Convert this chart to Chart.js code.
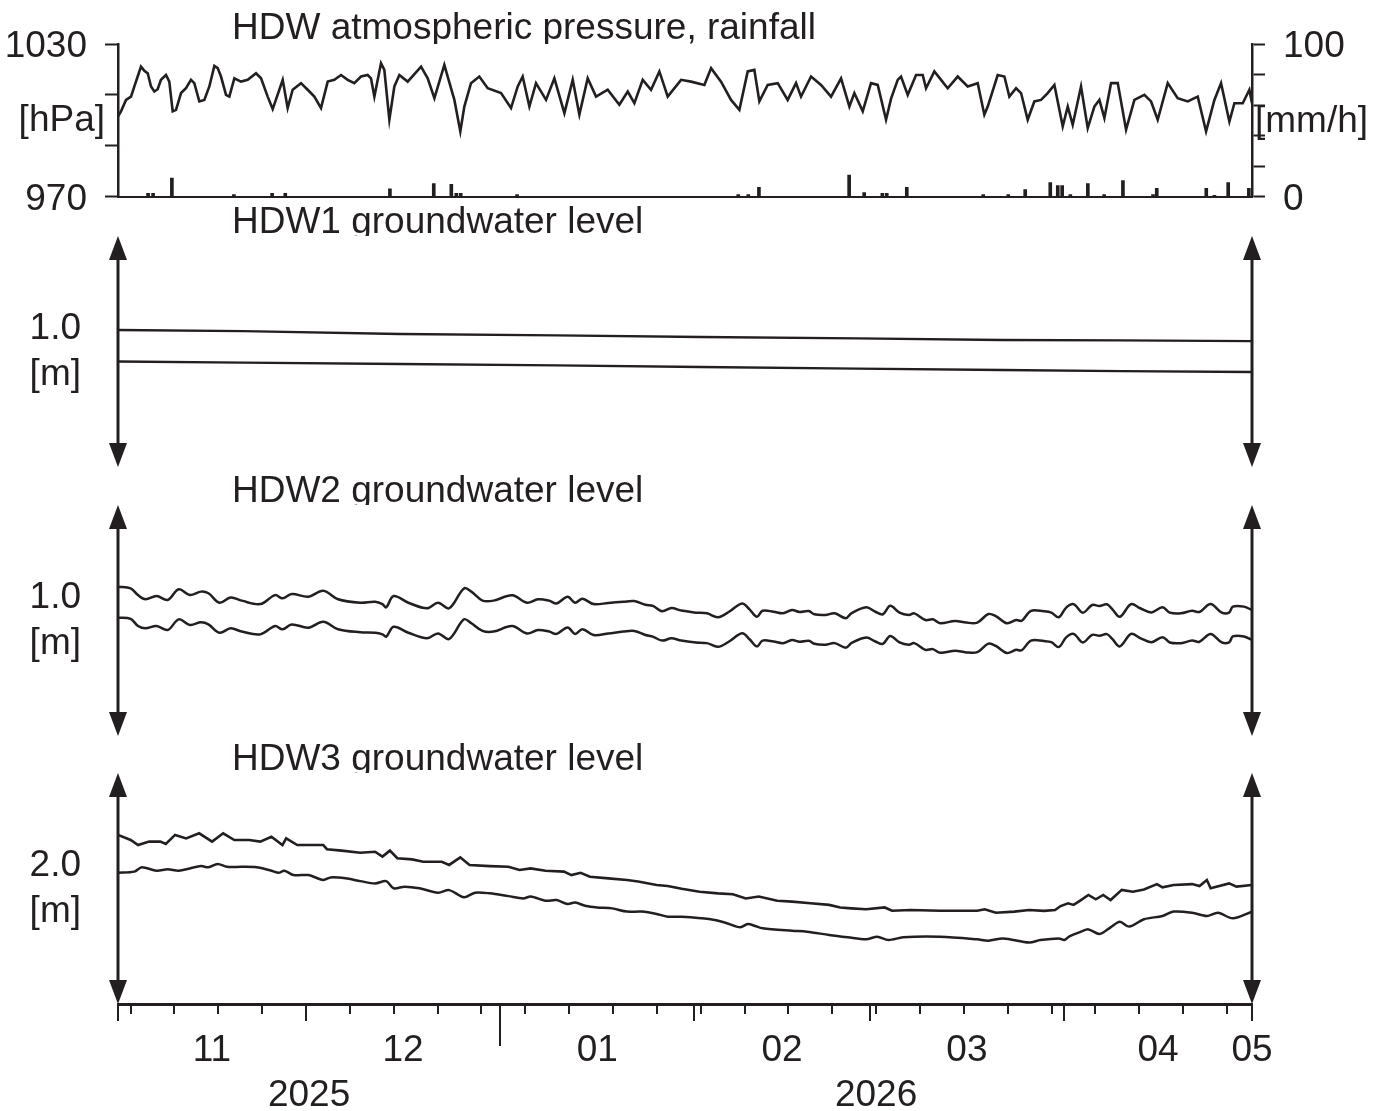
<!DOCTYPE html>
<html><head><meta charset="utf-8">
<script src="https://cdn.jsdelivr.net/npm/chart.js@4.4.1/dist/chart.umd.min.js"></script>
<style>
html,body{margin:0;padding:0;background:#fff;}
#wrap{position:relative;width:1394px;height:1111px;overflow:hidden;background:#fff;}
canvas{position:absolute;left:0;}
</style></head><body>
<div id="wrap">
<canvas id="cP" width="1394" height="240" style="top:0px"></canvas>
<canvas id="c1" width="1394" height="280" style="top:200px"></canvas>
<canvas id="c2" width="1394" height="280" style="top:470px"></canvas>
<canvas id="c3" width="1394" height="371" style="top:740px"></canvas>
</div>
<script>
// ---------- DATA (x = days since 2025-11-01) ----------
const pressureDays = [0,0.48,1.28,2.08,2.61,3.14,3.67,4.20,4.74,5.27,5.80,6.33,6.86,7.66,8.19,8.73,9.26,10.06,10.85,11.65,12.18,12.98,13.78,14.58,15.38,15.91,16.44,17.24,17.77,18.57,19.63,20.70,22.03,22.83,23.89,24.69,25.75,26.29,27.08,27.88,29.21,30.27,31.34,32.40,33.47,34.53,35.60,36.66,37.72,38.79,39.85,40.38,40.92,41.98,42.51,43.31,44.11,44.91,46.24,48.37,49.43,50.50,52.09,52.62,53.69,54.64,55.28,56.34,57.67,59.01,61.14,62.73,63.80,64.59,65.66,66.72,68.32,69.65,71.25,72.58,73.64,74.97,76.30,78.16,80.02,81.36,82.42,83.75,85.08,86.41,87.74,89.87,91.46,93.59,94.66,96.25,97.85,99.18,100.51,101.57,102.37,103.70,105.30,106.89,108.22,109.02,110.62,112.21,113.81,115.41,116.74,117.53,118.87,120.19,121.26,122.59,123.39,124.45,124.98,126.05,127.38,128.44,128.97,130.30,131.37,132.43,134.03,135.62,137.22,138.28,138.82,140.41,141.48,142.27,143.34,144.14,145.20,146.26,147.33,148.39,149.46,150.79,151.59,152.38,153.71,154.78,155.84,156.64,157.44,158.50,159.57,160.90,162.23,163.82,164.89,165.95,167.55,169.14,170.74,172.34,173.67,175.00,176.06,177.39,178.19,179.52,180.58,181];
const pressureHPa = [1001.5,1003.5,1008.0,1009.3,1013.3,1017.2,1021.1,1019.5,1018.5,1013.3,1011.3,1012.2,1015.9,1017.8,1015.2,1003.5,1004.1,1010.7,1012.6,1015.9,1014.6,1007.4,1008.0,1013.3,1021.4,1020.5,1017.2,1010.0,1009.3,1016.5,1015.2,1015.9,1018.5,1016.5,1009.3,1004.4,1012.0,1015.9,1004.8,1012.0,1014.6,1012.0,1009.3,1004.8,1015.2,1015.9,1017.8,1015.9,1014.6,1017.2,1017.8,1016.5,1009.3,1022.4,1019.8,1000.2,1013.3,1017.8,1015.2,1021.1,1016.5,1008.7,1021.8,1017.2,1008.0,995.6,1005.4,1014.6,1017.2,1012.6,1010.7,1004.8,1013.3,1017.2,1005.4,1014.6,1008.0,1016.5,1002.8,1015.9,1002.2,1016.5,1009.3,1012.0,1006.1,1011.3,1006.7,1015.9,1012.0,1019.2,1009.3,1015.9,1015.2,1013.9,1020.5,1015.2,1008.0,1004.1,1019.2,1019.8,1007.4,1013.9,1014.6,1008.0,1014.6,1009.3,1017.2,1013.9,1009.3,1016.5,1005.4,1010.7,1003.5,1014.6,1013.9,1000.2,1008.5,1015.9,1017.2,1010.0,1017.8,1017.8,1012.6,1019.2,1015.9,1012.6,1017.2,1013.3,1014.6,1002.2,1005.4,1017.8,1017.2,1009.3,1012.6,1010.7,1000.2,1007.4,1008.0,1010.7,1013.9,997.6,1005.4,998.2,1013.3,996.9,1005.4,1008.0,1000.9,1014.6,1014.6,996.3,1008.0,1010.0,1007.4,1000.2,1014.6,1008.7,1007.4,1009.3,995.6,1008.0,1014.6,999.5,1006.7,1006.7,1012.0,1006.7];

const rainDays = [4.8,5.6,8.6,18.5,24.6,26.7,43.4,50.4,53.2,54.0,54.7,63.7,99.0,100.6,102.3,116.7,119.1,122.0,122.7,125.9,138.1,142.1,144.8,148.8,150.0,150.7,152.0,154.8,157.4,160.4,165.2,165.8,173.7,175.0,177.2,180.5];
const rainMm = [2,2,12,1.3,2,2,5,8.5,8,2,2,1.3,1.3,1.3,6,14,2.6,2,2,6,1.3,1.3,4.6,9.2,7.2,7.2,1.3,8.5,1.3,10.5,1.3,5.3,5.3,0.7,9.2,5.3];

const hdw1Days  = [0,20,45,70,93,118,141,160,181];
const hdw1Upper = [0.993,0.988,0.976,0.970,0.963,0.957,0.950,0.948,0.945];
const hdw1Lower = [0.857,0.852,0.846,0.840,0.833,0.826,0.820,0.815,0.811];

const hdw2Days = [0,2.02,3.20,4.38,6.15,7.93,9.70,11.47,13.25,14.43,16.20,17.98,19.75,22.71,25.07,26.25,27.73,30.39,32.76,35.12,38.67,41.03,42.21,42.81,43.99,46.35,49.31,51.08,52.86,55.22,56.40,58.18,59.95,62.91,65.27,67.04,68.82,70.00,71.77,72.95,74.14,75.91,78.28,80.64,82.41,84.19,85.37,86.85,88.33,89.9,92.22,94.00,95.77,97.54,99.61,100.80,101.98,102.87,104.64,106.12,107.59,108.78,110.25,111.14,112.91,114.39,116.17,117.05,119.42,120.90,122.08,123.26,124.74,126.22,127.10,128.88,130.06,131.24,133.61,135.38,137.15,138.93,140.11,141.88,143.36,144.25,145.72,147.79,148.98,150.16,151.34,152.52,154.00,155.48,156.66,157.84,158.73,159.91,161.69,163.16,164.94,166.71,167.89,169.67,171.44,172.62,174.40,176.17,177.35,177.94,179.72,181];
const hdw2Upper = [1.046,1.039,1.010,0.992,1.006,0.989,1.035,1.010,1.025,1.018,0.977,1.000,0.986,0.971,1.010,0.996,1.015,1.003,1.029,0.992,0.977,0.981,0.971,0.957,1.006,0.977,0.953,0.977,0.953,1.039,1.025,0.986,0.986,1.009,0.977,0.992,0.986,0.974,1.003,0.977,0.994,0.971,0.976,0.981,0.984,0.968,0.963,0.940,0.954,0.943,0.934,0.931,0.914,0.938,0.974,0.948,0.916,0.942,0.938,0.931,0.945,0.937,0.941,0.927,0.924,0.931,0.910,0.931,0.957,0.938,0.927,0.964,0.934,0.924,0.931,0.902,0.905,0.888,0.898,0.891,0.891,0.928,0.919,0.888,0.902,0.899,0.942,0.940,0.934,0.914,0.956,0.971,0.934,0.967,0.963,0.970,0.948,0.916,0.971,0.953,0.935,0.957,0.934,0.931,0.942,0.937,0.971,0.934,0.934,0.960,0.960,0.945];
const hdw2Lower = [0.912,0.907,0.876,0.866,0.876,0.859,0.905,0.881,0.892,0.883,0.847,0.866,0.852,0.840,0.876,0.862,0.883,0.869,0.895,0.862,0.849,0.847,0.840,0.830,0.873,0.847,0.823,0.844,0.820,0.905,0.888,0.855,0.852,0.876,0.844,0.859,0.852,0.842,0.870,0.842,0.862,0.837,0.844,0.852,0.855,0.837,0.830,0.813,0.823,0.813,0.805,0.802,0.786,0.809,0.845,0.819,0.788,0.813,0.809,0.802,0.816,0.808,0.812,0.799,0.795,0.802,0.782,0.802,0.826,0.809,0.799,0.833,0.805,0.795,0.802,0.773,0.776,0.760,0.769,0.762,0.763,0.800,0.790,0.759,0.773,0.771,0.813,0.811,0.806,0.785,0.827,0.842,0.805,0.838,0.834,0.841,0.819,0.788,0.842,0.824,0.806,0.828,0.805,0.802,0.813,0.808,0.842,0.805,0.805,0.831,0.831,0.816];

const hdw3UpperDays = [0,2.02,3.20,4.97,6.75,7.63,9.11,10.88,12.95,15.02,16.79,18.57,20.93,22.71,24.48,26.25,26.84,28.62,30.39,32.76,33.35,35.71,38.67,41.03,42.21,43.40,44.58,46.94,48.72,51.67,52.86,54.63,56.11,59.36,62.31,64.09,65.86,68.23,71.18,72.37,73.84,75.32,78.28,81.23,83.01,85.96,87.73,89.98,92.82,95.77,98.14,100.21,102.27,105.23,107.59,110.55,113.51,115.28,117.05,119.42,122.37,123.56,126.51,131.24,134.20,137.15,138.33,140.11,143.06,145.43,147.79,149.57,150.45,151.64,152.52,153.70,154.89,156.07,157.25,158.43,160.21,161.98,163.76,165.82,166.71,168.48,171.44,172.62,173.80,174.40,177.35,178.53,181];
const hdw3Upper = [2.132,2.110,2.088,2.103,2.103,2.093,2.132,2.117,2.139,2.103,2.139,2.110,2.110,2.103,2.124,2.088,2.117,2.088,2.088,2.088,2.070,2.064,2.055,2.059,2.038,2.064,2.031,2.026,2.016,2.016,2.002,2.035,2.002,1.997,1.994,1.980,1.987,1.977,1.973,1.958,1.968,1.951,1.944,1.937,1.930,1.915,1.911,1.899,1.886,1.879,1.875,1.857,1.865,1.847,1.843,1.836,1.829,1.818,1.814,1.810,1.818,1.804,1.807,1.804,1.804,1.804,1.810,1.795,1.800,1.807,1.803,1.807,1.824,1.836,1.829,1.850,1.872,1.853,1.872,1.850,1.894,1.886,1.896,1.919,1.905,1.915,1.919,1.911,1.937,1.901,1.922,1.908,1.915];
const hdw3LowerDays = [0,2.61,3.79,6.15,7.93,9.70,11.47,13.25,14.43,15.91,17.39,19.75,22.12,24.48,25.66,26.55,28.03,30.39,32.76,33.94,36.30,38.67,41.03,42.81,43.99,45.76,48.13,51.08,52.86,55.22,57.00,59.36,62.31,64.68,65.86,68.23,70.00,71.77,72.95,74.73,76.50,78.87,81.23,83.60,85.96,87.73,89.98,94.59,96.95,99.32,100.50,101.68,102.87,107.59,109.96,113.51,116.46,119.42,121.19,122.96,125.33,131.24,137.15,138.93,141.29,145.43,147.20,150.16,151.04,151.93,153.70,154.89,156.66,158.43,159.91,161.39,163.76,166.71,168.48,171.44,173.80,175.57,177.94,181];
const hdw3Lower = [1.968,1.973,1.992,1.977,1.983,1.977,1.987,1.997,1.992,2.006,1.994,1.994,1.992,1.977,1.968,1.977,1.958,1.958,1.937,1.948,1.944,1.932,1.922,1.932,1.901,1.908,1.901,1.882,1.893,1.862,1.882,1.879,1.867,1.857,1.865,1.847,1.850,1.833,1.839,1.824,1.818,1.814,1.800,1.800,1.790,1.778,1.778,1.767,1.752,1.732,1.746,1.738,1.728,1.717,1.713,1.699,1.689,1.680,1.691,1.677,1.689,1.691,1.680,1.674,1.684,1.666,1.677,1.684,1.677,1.694,1.713,1.723,1.703,1.732,1.756,1.735,1.767,1.781,1.800,1.795,1.781,1.795,1.771,1.800];

// axis / tick labels
const monthLabelDays = [15,45.5,76.5,106,135.5,166,181];
const monthLabels = ['11','12','01','02','03','04','05'];
const yearLabelDays = [30.5,121];
const yearLabels = ['2025','2026'];
const weekTickDays = [2,9,16,23,30,37,44,51,58,65,72,79,86,93,100,107,114,121,128,135,142,149,156,163,170,177];
const monthStartDays = [0,30,61,92,120,151,181];
const yearStartDays = [61];

// ---------- STYLE ----------
const INK = '#231f20';
const FONT = 'Liberation Sans';
const FS = 37;
Chart.defaults.font.family = FONT;
Chart.defaults.font.size = FS;
Chart.defaults.color = INK;
const X_MIN = 0, X_MAX = 181;

function pts(xs, ys){ return xs.map((x,i)=>({x:x, y:ys[i]})); }
function zeroPad(s){ s.paddingTop=0; s.paddingBottom=0; s.paddingLeft=0; s.paddingRight=0; }

const titlePlugin = {
  id:'panelTitle',
  afterDraw(chart, args, opts){
    const ctx = chart.ctx;
    ctx.save();
    ctx.beginPath(); ctx.rect(0,0,chart.width,chart.chartArea.top); ctx.clip();
    ctx.font = FS+'px "'+FONT+'"'; ctx.fillStyle = INK;
    ctx.textAlign='left'; ctx.textBaseline='alphabetic';
    ctx.fillText(opts.text, opts.x, opts.y);
    ctx.restore();
  }
};
const unitsPlugin = {
  id:'units',
  afterDraw(chart, args, opts){
    const ctx = chart.ctx;
    ctx.save();
    ctx.font = FS+'px "'+FONT+'"'; ctx.fillStyle = INK; ctx.textBaseline='middle';
    (opts.items||[]).forEach(it=>{ ctx.textAlign = it.align; ctx.fillText(it.text, it.x, it.y); });
    ctx.restore();
  }
};
const arrowPlugin = {
  id:'gwArrows',
  afterDraw(chart){
    const {ctx, chartArea:{left,right,top,bottom}} = chart;
    ctx.save(); ctx.strokeStyle=INK; ctx.fillStyle=INK; ctx.lineWidth=3;
    [left,right].forEach(x=>{
      ctx.beginPath(); ctx.moveTo(x,top+20); ctx.lineTo(x,bottom-20); ctx.stroke();
      ctx.beginPath(); ctx.moveTo(x,top); ctx.lineTo(x-9,top+24); ctx.lineTo(x+9,top+24); ctx.closePath(); ctx.fill();
      ctx.beginPath(); ctx.moveTo(x,bottom); ctx.lineTo(x-9,bottom-24); ctx.lineTo(x+9,bottom-24); ctx.closePath(); ctx.fill();
    });
    ctx.restore();
  }
};
const xTickPlugin = {
  id:'xTicks',
  afterDraw(chart){
    const ctx = chart.ctx, s = chart.scales.x, y0 = chart.chartArea.bottom;
    ctx.save(); ctx.strokeStyle=INK; ctx.lineWidth=2;
    const mark=(d,len)=>{ const x=Math.round(s.getPixelForValue(d)); ctx.beginPath(); ctx.moveTo(x,y0); ctx.lineTo(x,y0+len); ctx.stroke(); };
    weekTickDays.forEach(d=>mark(d,10));
    monthStartDays.forEach(d=>mark(d,17));
    yearStartDays.forEach(d=>mark(d,42));
    ctx.restore();
  }
};

const lineDs = (data, w) => ({type:'line', data, borderColor:INK, borderWidth:w, pointRadius:0, tension:0, fill:false});

// ---------- TOP PANEL: pressure + rainfall ----------
new Chart(document.getElementById('cP'), {
  data:{ datasets:[
    Object.assign(lineDs(pts(pressureDays, pressureHPa), 2.6), {yAxisID:'yP'}),
    {type:'bar', data: pts(rainDays, rainMm), yAxisID:'yR', backgroundColor:INK, barThickness:3, grouped:false}
  ]},
  options:{
    responsive:false, animation:false, events:[],
    layout:{padding:{top:44, bottom:43.5, left:0, right:0}},
    plugins:{legend:{display:false}, tooltip:{enabled:false},
      panelTitle:{text:'HDW atmospheric pressure, rainfall', x:232, y:39},
      units:{items:[{text:'[hPa]', x:105, y:121, align:'right'},{text:'[mm/h]', x:1255, y:122, align:'left'}]}
    },
    scales:{
      x:{type:'linear', min:X_MIN, max:X_MAX, offset:false, ticks:{display:false}, grid:{display:false, offset:false}, border:{display:true, width:2, color:INK},
         afterFit(s){ s.height=0; zeroPad(s); }},
      yP:{type:'linear', position:'left', min:970, max:1030,
         ticks:{stepSize:20, padding:18, labelOffset:3, autoSkip:false, callback:(v)=> (v===1030||v===970) ? String(v) : ''},
         grid:{drawOnChartArea:false, tickLength:13, tickWidth:2, tickColor:INK},
         border:{width:2.5, color:INK},
         afterFit(s){ s.width=118; zeroPad(s); }},
      yR:{type:'linear', position:'right', min:0, max:100,
         ticks:{stepSize:20, padding:18, labelOffset:3, autoSkip:false, callback:(v)=> (v===0||v===100) ? String(v) : ''},
         grid:{drawOnChartArea:false, tickLength:13, tickWidth:2, tickColor:INK},
         border:{width:2.5, color:INK},
         afterFit(s){ s.width=142; zeroPad(s); }}
    }
  },
  plugins:[titlePlugin, unitsPlugin]
});

// ---------- GROUNDWATER PANELS ----------
function gwChart(id, title, titleY, padTop, padBottom, yMin, yMax, labelVal, unitVal, labelText, datasets, withX){
  const scales = {
    x: withX ? {
        type:'linear', min:X_MIN, max:X_MAX, position:'bottom',
        grid:{display:false}, border:{display:true, width:3, color:INK},
        ticks:{padding:17, autoSkip:false, maxRotation:0,
               callback:(v,i)=> i < monthLabels.length ? monthLabels[i] : ['', yearLabels[i - monthLabels.length]]},
        afterBuildTicks(s){ s.ticks = monthLabelDays.concat(yearLabelDays).map(v=>({value:v})); },
        afterFit(s){ s.height=107; zeroPad(s); }
      } : {type:'linear', min:X_MIN, max:X_MAX, display:false},
    y:{type:'linear', position:'left', min:yMin, max:yMax,
       grid:{display:false}, border:{display:false},
       ticks:{padding:29, autoSkip:false, callback:(v,i)=> i===0 ? labelText : '[m]'},
       afterBuildTicks(s){ s.ticks = [{value:labelVal},{value:unitVal}]; },
       afterFit(s){ s.width=118; zeroPad(s); }}
  };
  const plugins = [titlePlugin, arrowPlugin];
  if (withX) plugins.push(xTickPlugin);
  return new Chart(document.getElementById(id), {
    data:{datasets},
    options:{
      responsive:false, animation:false, events:[],
      layout:{padding:{top:padTop, bottom:padBottom, left:0, right:142}},
      plugins:{legend:{display:false}, tooltip:{enabled:false},
        panelTitle:{text:title, x:232, y:titleY}},
      scales
    },
    plugins
  });
}

gwChart('c1','HDW1 groundwater level', 33, 36, 13, 0.4, 1.4, 1.0, 0.797, '1.0', [
  lineDs(pts(hdw1Days, hdw1Upper), 2.4),
  lineDs(pts(hdw1Days, hdw1Lower), 2.4)
], false);

gwChart('c2','HDW2 groundwater level', 32, 35, 14, 0.4, 1.4, 1.0, 0.797, '1.0', [
  Object.assign(lineDs(pts(hdw2Days, hdw2Upper), 2.5), {tension:0.35}),
  Object.assign(lineDs(pts(hdw2Days, hdw2Lower), 2.5), {tension:0.35})
], false);

gwChart('c3','HDW3 groundwater level', 30, 33, 0, 1.4, 2.4, 2.0, 1.797, '2.0', [
  lineDs(pts(hdw3UpperDays, hdw3Upper), 2.6),
  Object.assign(lineDs(pts(hdw3LowerDays, hdw3Lower), 2.5), {tension:0.3})
], true);
</script>
</body></html>
